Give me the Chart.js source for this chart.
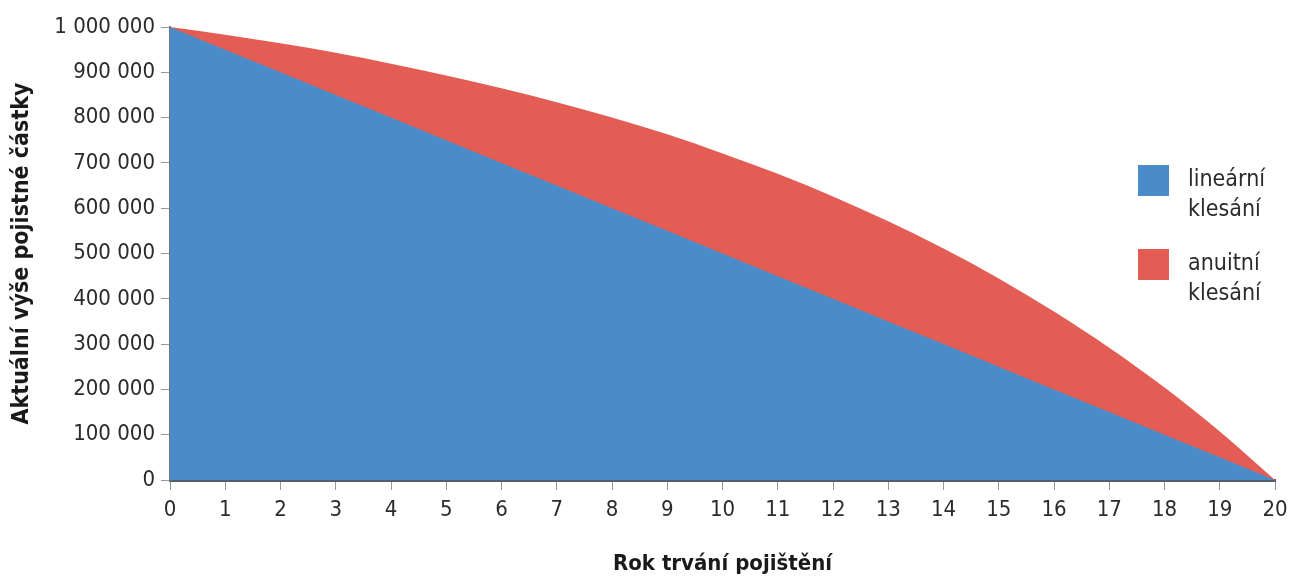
<!DOCTYPE html>
<html>
<head>
<meta charset="utf-8">
<script src="https://cdn.jsdelivr.net/npm/chart.js@4/dist/chart.umd.min.js"></script>
<style>
  body { margin: 0; background: #fff; }
  #wrap { position: relative; width: 1290px; height: 579px; }
  #legend { position: absolute; left: 1138px; top: 163px; font-family: "Liberation Sans Narrow", "DejaVu Sans Condensed", sans-serif; font-size: 23px; color: #2b2b2b; }
  .item { display: flex; align-items: flex-start; margin-bottom: 24px; }
  .box { width: 31px; height: 31px; margin-right: 19px; margin-top: 2px; }
  .txt { line-height: 30px; }
</style>
</head>
<body>
<div id="wrap">
  <canvas id="myChart" width="1290" height="579"></canvas>
  <div id="legend"></div>
</div>
<script>
var ctx = document.getElementById('myChart').getContext('2d');

var fontName = '"Liberation Sans Narrow", "DejaVu Sans Condensed", sans-serif';

// rok trvani 0..20
var years = ['0','1','2','3','4','5','6','7','8','9','10','11','12','13','14','15','16','17','18','19','20'];

var linearni = [1000000, 950000, 900000, 850000, 800000, 750000, 700000, 650000, 600000, 550000, 500000,
                450000, 400000, 350000, 300000, 250000, 200000, 150000, 100000, 50000, 0];

var anuitni = [1000000, 983000, 964000, 943000, 919000, 893000, 865000, 834000, 800000, 763000, 721000,
               676000, 626000, 571000, 511000, 445000, 372000, 292000, 204000, 107000, 0];

var seriesNames = [['lineární', 'klesání'], ['anuitní', 'klesání']];
var seriesColors = ['#4a8cc9', '#e45d54'];

var chart = new Chart(ctx, {
    type: 'line',
    data: {
        labels: years,
        datasets: [{
            label: seriesNames[0].join(' '),
            data: linearni,
            backgroundColor: seriesColors[0],
            borderColor: seriesColors[0],
            borderWidth: 0,
            pointRadius: 0,
            fill: 'origin'
        },
        {
            label: seriesNames[1].join(' '),
            data: anuitni,
            backgroundColor: seriesColors[1],
            borderColor: seriesColors[1],
            borderWidth: 0,
            pointRadius: 0,
            cubicInterpolationMode: 'monotone',
            fill: 'origin'
        }]
    },
    options: {
        responsive: false,
        animation: false,
        layout: { padding: { top: 27, right: 15, left: 0, bottom: 0 } },
        plugins: {
            legend: { display: false },
            tooltip: { enabled: false }
        },
        scales: {
            x: {
                offset: false,
                grid: { drawOnChartArea: false, tickLength: 10, color: '#999', tickWidth: 1 },
                border: { color: '#555d6b', width: 3 },
                ticks: { color: '#2b2b2b', font: { family: fontName, size: 22 }, padding: 7, maxRotation: 0, autoSkip: false },
                title: { display: true, text: 'Rok trvání pojištění', color: '#1a1a1a',
                         font: { family: fontName, size: 22, weight: 'bold' }, padding: { top: 22, bottom: 2 } },
                afterFit: function (scale) { scale.height = 99; scale.paddingRight = 0; scale.paddingLeft = 0; }
            },
            y: {
                min: 0,
                max: 1000000,
                grid: { drawOnChartArea: false, tickLength: 9, color: '#999', tickWidth: 1 },
                border: { color: '#777', width: 2 },
                ticks: {
                    stepSize: 100000,
                    color: '#2b2b2b',
                    font: { family: fontName, size: 22 },
                    padding: 6,
                    callback: function (v) { return String(v).replace(/\B(?=(\d{3})+(?!\d))/g, ' '); }
                },
                title: { display: true, text: 'Aktuální výše pojistné částky', color: '#1a1a1a',
                         font: { family: fontName, size: 23, weight: 'bold' }, padding: { top: 8, bottom: 4 } },
                afterFit: function (scale) { scale.width = 170; }
            }
        }
    }
});

// legenda vpravo, dva radky
var lg = document.getElementById('legend');
seriesNames.forEach(function (n, i) {
    lg.innerHTML += '<div class="item"><div class="box" style="background:' + seriesColors[i] + '"></div>' +
        '<div class="txt">' + n[0] + '<br>' + n[1] + '</div></div>';
});
</script>
</body>
</html>
